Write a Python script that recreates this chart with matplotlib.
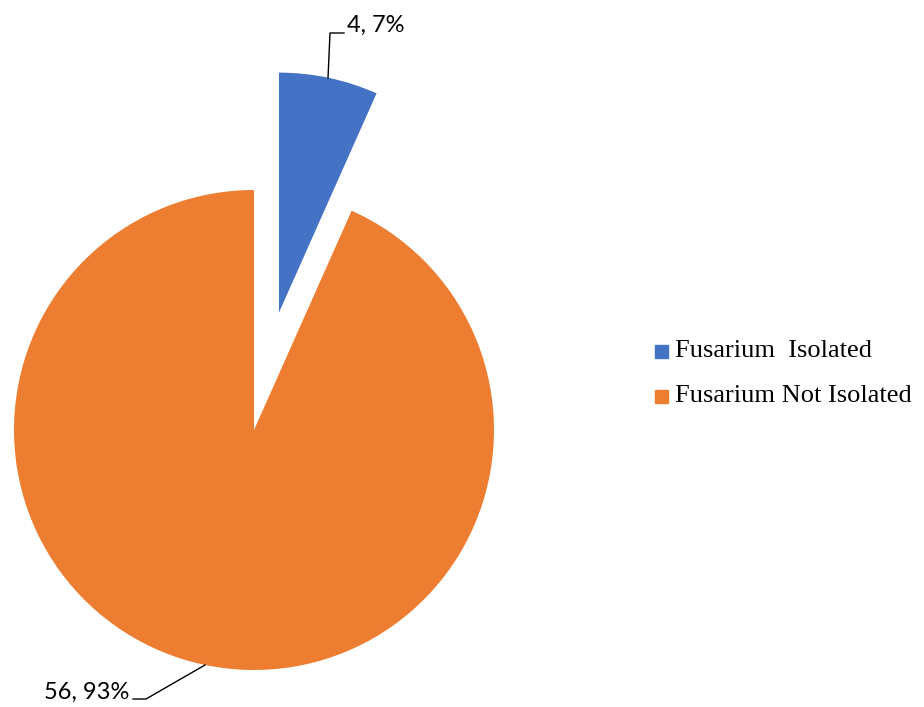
import matplotlib.pyplot as plt
from matplotlib.patches import Rectangle

labels = ["Fusarium  Isolated", "Fusarium Not Isolated"]
counts = [4, 56]
colors = ["#4472C4", "#ED7D31"]

W, H = 924, 707
fig = plt.figure(figsize=(W / 100, H / 100), dpi=100)
ax = fig.add_axes([0, 0, 1, 1])

# pie in pixel coordinates (y measured from bottom); explode is absolute here
cx, cy, r = 254, H - 430, 240
ax.pie(counts, colors=colors, startangle=90, counterclock=False,
       explode=[120, 0], center=(cx, cy), radius=r, frame=True)
ax.set_xlim(0, W)
ax.set_ylim(0, H)
ax.set_aspect("equal")
ax.axis("off")

total = sum(counts)
pct = [round(100 * c / total) for c in counts]

# data labels with leader lines
ax.plot([328, 330, 344], [H - 78, H - 33, H - 33], color="black", lw=1)
ax.text(347, H - 25, f"{counts[0]}, {pct[0]}%", fontsize=17, family="Lato",
        ha="left", va="center")
ax.plot([205, 146, 133], [H - 665, H - 699, H - 699], color="black", lw=1)
ax.text(129, H - 692, f"{counts[1]}, {pct[1]}%", fontsize=17, family="Lato",
        ha="right", va="center")

# legend
for i, (lab, col) in enumerate(zip(labels, colors)):
    y = H - 351 - i * 45
    ax.add_patch(Rectangle((655, y - 6.5), 13, 13, color=col))
    ax.text(675, y, lab, fontsize=19, family="Liberation Serif",
            ha="left", va="center")

fig.savefig("out.png", dpi=100)
